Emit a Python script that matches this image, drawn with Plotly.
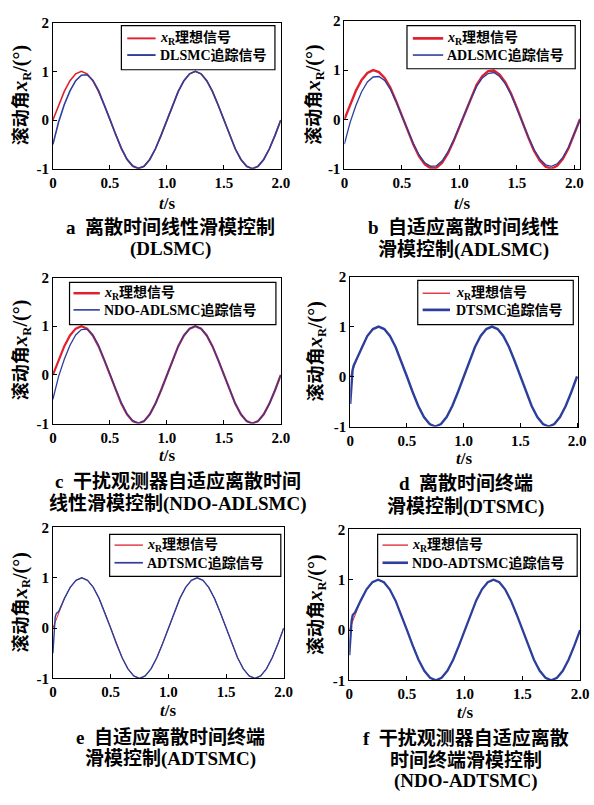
import plotly.graph_objects as go

W, H = 594, 805

# time samples (s)
t = [0, 0.01, 0.02, 0.03, 0.04,
     0.05, 0.10, 0.15, 0.20, 0.25, 0.30, 0.35, 0.40, 0.45, 0.50,
     0.55, 0.60, 0.65, 0.70, 0.75, 0.80, 0.85, 0.90, 0.95, 1.00,
     1.05, 1.10, 1.15, 1.20, 1.25, 1.30, 1.35, 1.40, 1.45, 1.50,
     1.55, 1.60, 1.65, 1.70, 1.75, 1.80, 1.85, 1.90, 1.95, 2.00]
t_b = t + [2.05]

# ideal roll angle x_R (deg)
ideal = [0, 0.06, 0.13, 0.19, 0.25,
         0.31, 0.59, 0.81, 0.95, 1.00, 0.95, 0.81, 0.59, 0.31, 0.00,
         -0.31, -0.59, -0.81, -0.95, -1.00, -0.95, -0.81, -0.59, -0.31, 0.00,
         0.31, 0.59, 0.81, 0.95, 1.00, 0.95, 0.81, 0.59, 0.31, 0.00,
         -0.31, -0.59, -0.81, -0.95, -1.00, -0.95, -0.81, -0.59, -0.31, 0.00]
ideal_b = [0, 0.06, 0.12, 0.18, 0.24,
           0.30, 0.58, 0.80, 0.94, 1.00, 0.96, 0.84, 0.64, 0.37, 0.07,
           -0.23, -0.51, -0.75, -0.91, -0.99, -0.98, -0.88, -0.69, -0.44, -0.15,
           0.16, 0.44, 0.70, 0.88, 0.98, 0.99, 0.91, 0.75, 0.52, 0.24,
           -0.08, -0.37, -0.64, -0.84, -0.96, -1.00, -0.94, -0.80, -0.58, -0.29, 0.01]

# tracking signals
trk_a = [-0.50, -0.40, -0.30, -0.21, -0.12,
         -0.04, 0.32, 0.60, 0.81, 0.92, 0.93, 0.82, 0.61, 0.33, 0.02,
         -0.29, -0.57, -0.80, -0.94, -0.99, -0.95, -0.81, -0.59, -0.31, 0.00,
         0.31, 0.59, 0.81, 0.95, 1.00, 0.95, 0.81, 0.59, 0.31, 0.00,
         -0.31, -0.59, -0.81, -0.95, -1.00, -0.95, -0.81, -0.59, -0.31, 0.00]
trk_b = [-0.50, -0.40, -0.31, -0.22, -0.14,
         -0.06, 0.28, 0.56, 0.76, 0.86, 0.87, 0.79, 0.61, 0.36, 0.07,
         -0.22, -0.49, -0.72, -0.88, -0.95, -0.94, -0.84, -0.66, -0.42, -0.14,
         0.15, 0.42, 0.67, 0.84, 0.93, 0.95, 0.87, 0.72, 0.50, 0.23,
         -0.07, -0.35, -0.61, -0.80, -0.92, -0.95, -0.90, -0.77, -0.56, -0.28, 0.00]
trk_c = [-0.50, -0.40, -0.30, -0.21, -0.12,
         -0.03, 0.32, 0.61, 0.82, 0.93, 0.94, 0.82, 0.61, 0.33, 0.02,
         -0.29, -0.57, -0.80, -0.94, -0.99, -0.95, -0.81, -0.59, -0.31, 0.00,
         0.31, 0.59, 0.81, 0.95, 1.00, 0.95, 0.81, 0.59, 0.31, 0.00,
         -0.31, -0.59, -0.81, -0.95, -1.00, -0.95, -0.81, -0.59, -0.31, 0.00]
trk_d = [-0.55, -0.15, 0.12, 0.22, 0.27,
         0.31, 0.59, 0.81, 0.95, 1.00, 0.95, 0.81, 0.59, 0.31, 0.00,
         -0.31, -0.59, -0.81, -0.95, -1.00, -0.95, -0.81, -0.59, -0.31, 0.00,
         0.31, 0.59, 0.81, 0.95, 1.00, 0.95, 0.81, 0.59, 0.31, 0.00,
         -0.31, -0.59, -0.81, -0.95, -1.00, -0.95, -0.81, -0.59, -0.31, 0.00]
trk_e = [-0.50, -0.05, 0.22, 0.29, 0.31,
         0.33, 0.59, 0.81, 0.95, 1.00, 0.95, 0.81, 0.59, 0.31, 0.00,
         -0.31, -0.59, -0.81, -0.95, -1.00, -0.95, -0.81, -0.59, -0.31, 0.00,
         0.31, 0.59, 0.81, 0.95, 1.00, 0.95, 0.81, 0.59, 0.31, 0.00,
         -0.31, -0.59, -0.81, -0.95, -1.00, -0.95, -0.81, -0.59, -0.31, 0.00]
trk_f = [-0.50, -0.10, 0.18, 0.30, 0.34,
         0.35, 0.59, 0.81, 0.95, 1.00, 0.95, 0.81, 0.59, 0.31, 0.00,
         -0.31, -0.59, -0.81, -0.95, -1.00, -0.95, -0.81, -0.59, -0.31, 0.00,
         0.31, 0.59, 0.81, 0.95, 1.00, 0.95, 0.81, 0.59, 0.31, 0.00,
         -0.31, -0.59, -0.81, -0.95, -1.00, -0.95, -0.81, -0.59, -0.31, 0.00]

methods = ["DLSMC", "ADLSMC", "NDO-ADLSMC", "DTSMC", "ADTSMC", "NDO-ADTSMC"]
ideal_label = "<i>x</i><sub>R</sub>理想信号"
track_suffix = "追踪信号"

x_ticks = [0, 0.5, 1.0, 1.5, 2.0]
x_ticktext = ["0", "0.5", "1.0", "1.5", "2.0"]
y_ticks = [-1, 0, 1, 2]
y_ticktext = ["-1", "0", "1", "2"]

captions = [
    ["a  离散时间线性滑模控制", "(DLSMC)"],
    ["b  自适应离散时间线性", "滑模控制(ADLSMC)"],
    ["c  干扰观测器自适应离散时间", "线性滑模控制(NDO-ADLSMC)"],
    ["d  离散时间终端", "滑模控制(DTSMC)"],
    ["e  自适应离散时间终端", "滑模控制(ADTSMC)"],
    ["f  干扰观测器自适应离散", "时间终端滑模控制", "(NDO-ADTSMC)"],
]

RED = "#e0202c"
BLUE = "#2c3f9c"
SERIF = "Liberation Serif, Noto Sans CJK SC"

# layout geometry in pixels: (left, right, top, bottom)
panels = [
    (50, 283, 15, 164),
    (348, 589, 13, 164),
    (50, 283, 275, 424),
    (354, 587, 274, 427),
    (50, 286, 530, 684),
    (353, 589, 532, 686),
]
xmax = [2.0, 2.05, 2.0, 2.01, 2.0, 2.0]
# legend box (left, right, top, bottom), swatch (x0, x1), text x, row y's
legbox = [(120, 277, 18, 63), (412, 584, 18, 62), (67, 278, 280, 323),
          (423, 582, 278, 323), (108, 283, 537, 580), (382, 586, 537, 580)]
legsw = [(126, 155), (418, 449), (71, 98), (428, 456), (113, 142), (387, 413)]
legtx = [157, 451, 100, 460, 144, 415]
legrows = [(31, 48), (31, 48), (291, 308), (291, 308), (548, 566), (548, 566)]
widths = [(1.6, 1.6), (2.4, 1.3), (2.2, 1.3), (1.0, 2.4), (1.0, 1.4), (1.0, 2.3)]
ytitle_x = [17, 317, 17, 319, 17, 319]
xtitle_y = [199, 199, 457, 460, 717, 719]
cap_x = [170, 470, 178, 472, 170, 472]
cap_y = [[223, 246], [223, 246], [483, 506], [485, 509], [744, 766], [745, 767, 789]]

times = [t, t_b, t, t, t, t]
ideals = [ideal, ideal_b, ideal, ideal, ideal, ideal]
tracks = [trk_a, trk_b, trk_c, trk_d, trk_e, trk_f]

fig = go.Figure()
annotations = []
shapes = []
layout = dict(width=W, height=H, margin=dict(l=0, r=0, t=0, b=0),
              paper_bgcolor="white", plot_bgcolor="white", showlegend=False)


def px(x):
    return x / W


def py(y):
    return 1 - y / H


for i in range(6):
    n = "" if i == 0 else str(i + 1)
    L, R, T, B = panels[i]
    fig.add_trace(go.Scatter(x=times[i], y=ideals[i], mode="lines",
                             line=dict(color=RED, width=widths[i][0]),
                             name=ideal_label, xaxis="x" + n, yaxis="y" + n))
    fig.add_trace(go.Scatter(x=times[i], y=tracks[i], mode="lines",
                             line=dict(color=BLUE, width=widths[i][1]),
                             name=methods[i] + track_suffix, xaxis="x" + n, yaxis="y" + n))
    tf = dict(family=SERIF, size=15, color="black", weight="bold")
    layout["xaxis" + n] = dict(domain=[px(L), px(R)], range=[0, xmax[i]], tickvals=x_ticks,
                               ticktext=x_ticktext, ticks="inside", ticklen=4, tickcolor="black",
                               showline=True, linecolor="black", linewidth=1, mirror=True,
                               showgrid=False, zeroline=False, tickfont=tf, anchor="y" + n)
    layout["yaxis" + n] = dict(domain=[py(B), py(T)], range=[-1, 2], tickvals=y_ticks,
                               ticktext=y_ticktext, ticks="inside", ticklen=4, tickcolor="black",
                               showline=True, linecolor="black", linewidth=1, mirror=True,
                               showgrid=False, zeroline=False, tickfont=tf, anchor="x" + n)
    # legend (box, swatches, labels)
    bl, br, bt, bb = legbox[i]
    shapes.append(dict(type="rect", xref="paper", yref="paper", x0=px(bl), x1=px(br),
                       y0=py(bb), y1=py(bt), fillcolor="white",
                       line=dict(color="black", width=1.2), layer="above"))
    labels = [ideal_label, methods[i] + track_suffix]
    for k, (col, wdt) in enumerate([(RED, widths[i][0]), (BLUE, widths[i][1])]):
        ry = legrows[i][k]
        shapes.append(dict(type="line", xref="paper", yref="paper",
                           x0=px(legsw[i][0]), x1=px(legsw[i][1]), y0=py(ry), y1=py(ry),
                           line=dict(color=col, width=wdt + 0.3), layer="above"))
        annotations.append(dict(x=px(legtx[i]), y=py(ry), xref="paper", yref="paper",
                                showarrow=False, text="<b>" + labels[k] + "</b>",
                                font=dict(family=SERIF, size=14, color="black"),
                                xanchor="left", yanchor="middle"))
    # y title
    annotations.append(dict(x=px(ytitle_x[i]), y=py((T + B) / 2),
                            xref="paper", yref="paper", showarrow=False,
                            text="<b>滚动角<span style='font-size:21px'><i>x</i></span>"
                                 "<sub>R</sub><span style='font-size:20px'>/(°)</span></b>",
                            textangle=-90,
                            font=dict(family=SERIF, size=18, color="black"),
                            xanchor="center", yanchor="middle"))
    # x title
    annotations.append(dict(x=px((L + R) / 2), y=py(xtitle_y[i]),
                            xref="paper", yref="paper", showarrow=False,
                            text="<b><i>t</i>/s</b>",
                            font=dict(family=SERIF, size=17, color="black"),
                            xanchor="center", yanchor="middle"))
    for line, yy in zip(captions[i], cap_y[i]):
        annotations.append(dict(x=px(cap_x[i]), y=py(yy), xref="paper", yref="paper",
                                showarrow=False, text="<b>" + line + "</b>",
                                font=dict(family=SERIF, size=19, color="black"),
                                xanchor="center", yanchor="middle"))

layout["annotations"] = annotations
layout["shapes"] = shapes
fig.update_layout(**layout)
fig.write_html("out.html")
